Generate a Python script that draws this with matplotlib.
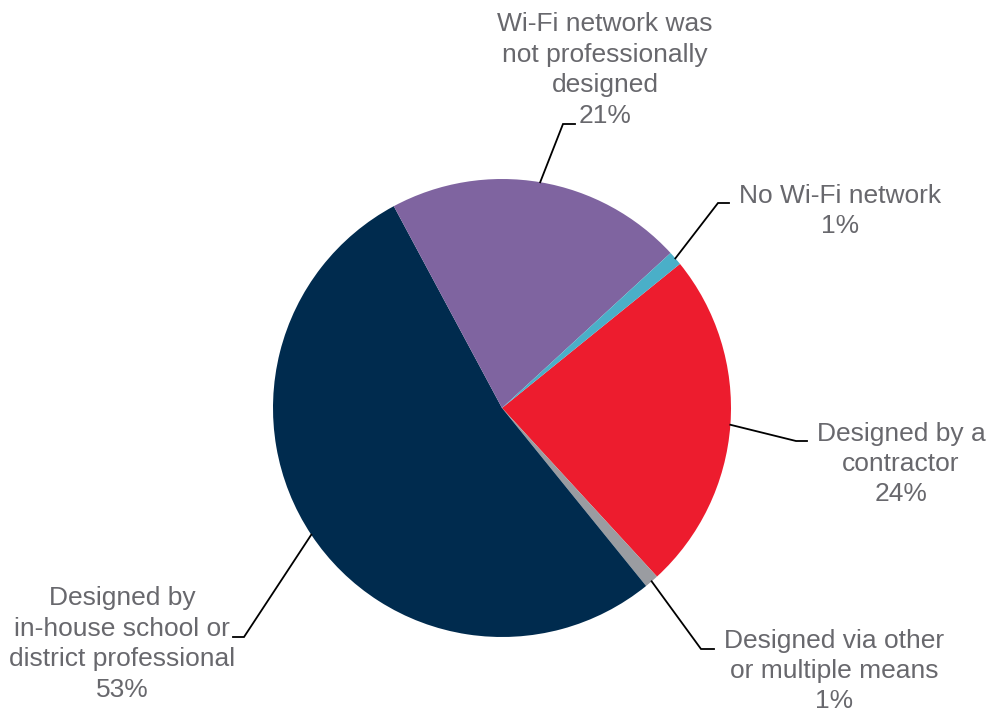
import matplotlib
matplotlib.use("Agg")

import numpy as np
import matplotlib.pyplot as plt

plt.rcParams.update({
    "font.family": ["Liberation Sans", "DejaVu Sans"],
    "font.size": 19,
})

labels = [
    "Designed by a\ncontractor",
    "Designed via other\nor multiple means",
    "Designed by\nin-house school or\ndistrict professional",
    "Wi-Fi network was\nnot professionally\ndesigned",
    "No Wi-Fi network",
]
shares = [24, 1, 53, 21, 1]
colors = ["#ED1C2E", "#9A9CA1", "#002B4E", "#7F64A0", "#4AAFC8"]
text_color = "#68686D"

W, H = 990, 715
CX, CY, R = 502, 408, 229

# label centres, elbow and end of leader lines (pixels, origin top-left)
label_pos = [(901, 464), (834, 671), (122, 644), (605, 70), (840, 211)]
elbows = [(796, 441), (701, 649), (244, 637), (563, 124), (718, 203)]
ends = [(807, 441), (714, 649), (233, 637), (575, 124), (729, 203)]


def px(p):
    return ((p[0] - CX) / R, (CY - p[1]) / R)


fig = plt.figure(figsize=(W / 100, H / 100), dpi=100)
ax = fig.add_axes([(CX - R) / W, (H - CY - R) / H, 2 * R / W, 2 * R / H])
wedges, _ = ax.pie(shares, colors=colors, startangle=39, counterclock=False,
                   radius=1, wedgeprops=dict(linewidth=0))
ax.set_xlim(-1, 1)
ax.set_ylim(-1, 1)
ax.set_aspect("equal")
ax.axis("off")

for w, lab, val, lp, el, en in zip(wedges, labels, shares, label_pos, elbows, ends):
    mid = np.deg2rad((w.theta1 + w.theta2) / 2)
    start = (np.cos(mid), np.sin(mid))
    e1, e2 = px(el), px(en)
    ax.plot([start[0], e1[0], e2[0]], [start[1], e1[1], e2[1]],
            color="black", lw=1.3, clip_on=False, solid_joinstyle="miter")
    tx, ty = px(lp)
    ax.text(tx, ty, f"{lab}\n{val}%", ha="center", va="center",
            color=text_color, fontsize=19, linespacing=1.34, clip_on=False)

fig.savefig("out.png", dpi=100)
